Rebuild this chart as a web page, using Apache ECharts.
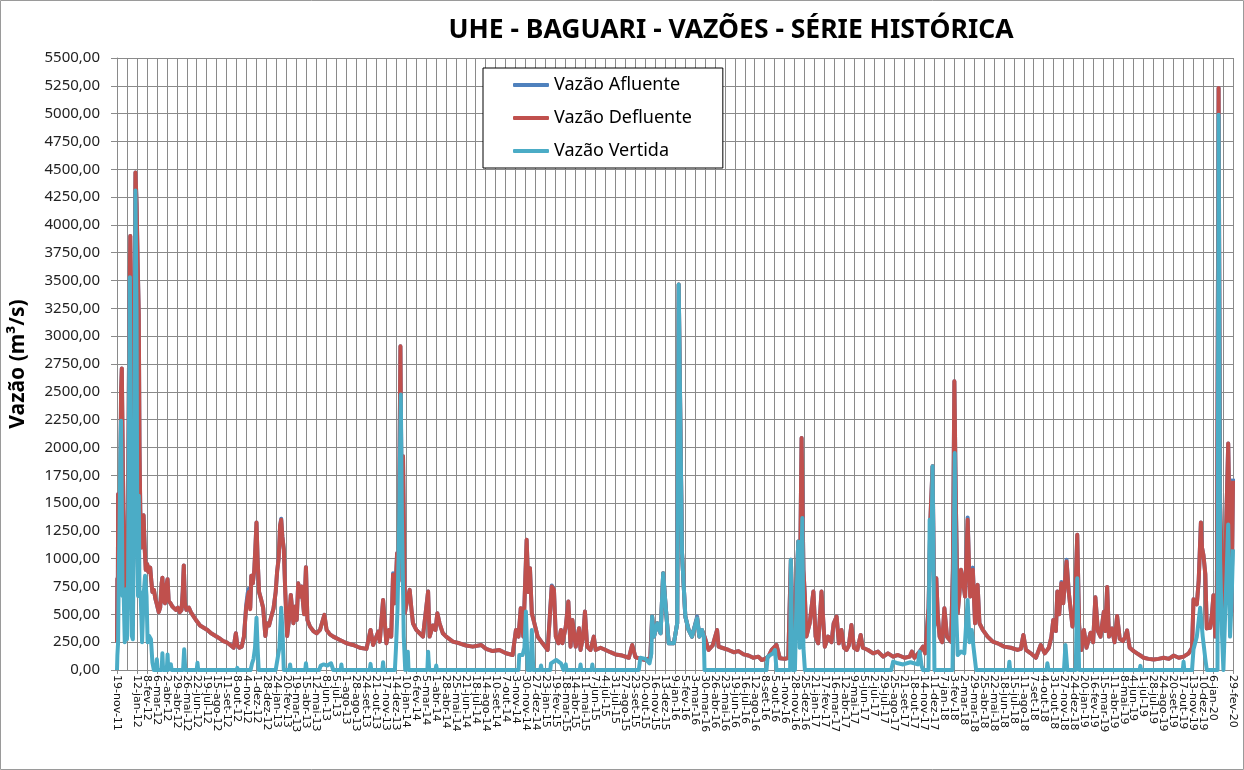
<!DOCTYPE html>
<html>
<head>
<meta charset="utf-8">
<title>UHE - BAGUARI - VAZÕES - SÉRIE HISTÓRICA</title>
<script src="https://cdn.jsdelivr.net/npm/echarts@6/dist/echarts.min.js"></script>
<style>
  html, body { margin: 0; padding: 0; background: #fff; }
  #chart { width: 1244px; height: 770px; }
</style>
</head>
<body>
<div id="chart"></div>
<script>
// eixo x: dias contados a partir de 19-nov-11 (rótulo a cada 27 dias)
const startDate = Date.UTC(2011, 10, 19)
const lastDay = 3024
const labelStep = 27
const meses = ['jan', 'fev', 'mar', 'abr', 'mai', 'jun', 'jul', 'ago', 'set', 'out', 'nov', 'dez']
const seriesNames = ['Vazão Afluente', 'Vazão Defluente', 'Vazão Vertida']
const seriesColors = ['#4F81BD', '#C0504D', '#4BACC6']

// [dia, m³/s]
const defluente = [
  [0,250],[1,820],[2,300],[3,1580],[5,900],[8,1200],[11,2500],[13,2710],[16,1800],[19,1100],[22,1000],[24,660],[27,800],[30,1500],[33,3000],[36,3900],[38,3000],[40,1200],[42,700],[44,1000],[47,3000],[50,4470],[53,4200],[56,3660],[59,3200],[61,2000],[63,1450],[66,1100],[70,1200],[72,1390],[75,1100],[78,900],[82,950],[85,880],[90,920],[93,800],[96,700],[100,720],[104,640],[108,590],[113,520],[117,560],[121,780],[123,830],[126,620],[130,600],[134,760],[137,816],[140,620],[145,600],[150,570],[155,580],[160,540],[165,560],[170,520],[175,540],[178,700],[181,940],[184,600],[188,540],[195,560],[200,520],[208,480],[216,440],[225,400],[235,380],[245,360],[255,330],[265,310],[275,290],[280,300],[288,260],[296,250],[305,230],[310,240],[316,200],[322,330],[326,220],[332,200],[338,210],[344,300],[350,560],[354,650],[357,700],[361,546],[364,846],[368,780],[372,900],[375,1100],[378,1326],[381,1000],[385,700],[390,640],[396,560],[402,306],[406,420],[412,400],[418,480],[424,550],[430,700],[434,890],[438,1000],[442,1300],[445,1350],[448,1200],[452,1086],[456,700],[461,306],[466,450],[471,675],[478,420],[483,570],[487,450],[491,780],[496,660],[500,750],[507,500],[512,924],[516,450],[523,390],[532,350],[541,330],[550,360],[557,440],[562,495],[568,360],[577,320],[586,300],[604,270],[622,240],[640,225],[658,200],[676,190],[687,360],[694,225],[708,345],[712,255],[721,630],[730,240],[737,360],[743,300],[748,855],[753,600],[759,1050],[763,800],[768,2910],[771,1500],[775,1920],[780,510],[786,620],[793,720],[798,540],[802,420],[811,360],[820,330],[829,300],[843,705],[847,300],[856,400],[863,360],[868,510],[874,420],[883,330],[892,300],[910,255],[928,240],[946,220],[964,210],[987,225],[1000,190],[1018,170],[1036,180],[1054,150],[1072,135],[1081,360],[1088,300],[1094,555],[1101,300],[1110,1170],[1115,700],[1119,915],[1124,510],[1131,420],[1140,300],[1153,240],[1167,180],[1178,750],[1184,720],[1189,300],[1196,240],[1203,360],
  [1207,240],[1216,390],[1223,615],[1229,210],[1234,450],[1243,210],[1252,375],[1256,180],[1263,300],[1268,525],[1274,210],[1283,180],[1292,300],[1297,180],[1310,200],[1324,180],[1337,160],[1351,140],[1369,130],[1387,110],[1396,225],[1405,115],[1418,100],[1432,90],[1445,110],[1450,480],[1455,300],[1464,420],[1473,330],[1480,870],[1486,600],[1495,240],[1509,240],[1518,420],[1522,3465],[1527,2100],[1531,1050],[1540,480],[1549,360],[1558,300],[1572,465],[1578,300],[1585,360],[1592,300],[1603,180],[1614,220],[1626,360],[1630,210],[1639,200],[1657,180],[1671,160],[1684,170],[1698,140],[1711,130],[1724,110],[1738,120],[1747,90],[1756,100],[1765,120],[1774,180],[1787,225],[1796,105],[1810,100],[1819,110],[1826,990],[1832,200],[1837,360],[1841,700],[1846,1155],[1851,900],[1855,2085],[1860,900],[1864,660],[1868,300],[1877,420],[1887,705],[1893,300],[1900,240],[1909,705],[1918,210],[1927,300],[1936,250],[1942,420],[1950,480],[1956,240],[1963,360],[1970,200],[1977,180],[1983,220],[1990,405],[1997,200],[2006,180],[2015,315],[2021,200],[2035,180],[2049,150],[2062,165],[2076,120],[2089,150],[2103,120],[2116,135],[2134,110],[2148,120],[2154,165],[2161,110],[2175,165],[2184,210],[2190,150],[2199,555],[2204,1350],[2210,1830],[2215,400],[2220,825],[2224,500],[2229,300],[2236,250],[2242,555],[2249,300],[2260,255],[2265,900],[2269,2595],[2273,1500],[2278,510],[2283,700],[2287,900],[2292,810],[2298,660],[2305,1350],[2309,900],[2312,660],[2319,900],[2325,420],[2332,765],[2337,420],[2346,360],[2359,300],[2373,255],[2386,240],[2404,210],[2422,200],[2440,180],[2449,190],[2456,315],[2463,180],[2476,150],[2490,110],[2503,225],[2514,150],[2525,200],[2532,300],[2537,450],[2544,350],[2548,705],[2553,500],[2559,780],[2564,600],[2573,975],[2579,700],[2584,690],[2589,390],[2595,500],[2602,1215],[2607,400],[2613,180],[2620,360],[2627,200],[2638,335],[2645,250],[2651,654],[2658,350],[2665,300],[2674,523],[2678,350],[2683,747],[2688,300],[2696,373],[2703,250],[2710,486],[2717,280],[2726,260],[2732,300],[2737,355],[2744,200],[2755,170],[2764,150],[2773,130],[2782,110],[2795,100],[2809,95],[2822,100],[2836,110],[2850,100],[2863,130],[2877,110],[2890,120],[2904,150],[2913,200],[2917,635],[2926,590],[2931,800],[2937,1326],[2940,1100],[2944,1030],[2949,860],[2953,374],[2962,380],[2967,500],[2971,672],[2976,300],[2980,350],[2985,5230],[2989,1500],[2994,900],[2998,400],[3003,935],[3007,1500],[3011,2036],[3016,1100],[3020,523],[3024,1700]
]

// quase sempre coberta pela defluente
const afluente = [
  [0,250],[1,820],[2,300],[3,1580],[5,900],[8,1200],[11,2500],[13,2710],[16,1800],[19,1100],[22,1000],[24,660],[27,800],[30,1500],[33,3000],[36,3900],[38,3000],[40,1200],[42,700],[44,1000],[47,3000],[50,4470],[53,4200],[56,3660],[59,3200],[61,2000],[63,1450],[66,1100],[70,1200],[72,1390],[75,1100],[78,900],[82,950],[85,880],[90,920],[93,800],[96,700],[100,720],[104,640],[108,590],[113,520],[117,560],[121,780],[123,830],[126,620],[130,600],[134,760],[137,816],[140,620],[145,600],[150,570],[155,580],[160,540],[165,560],[170,520],[175,540],[178,700],[181,940],[184,600],[188,540],[195,560],[200,520],[208,480],[216,440],[225,400],[235,380],[245,360],[255,330],[265,310],[275,290],[280,300],[288,260],[296,250],[305,230],[310,240],[316,200],[322,330],[326,220],[332,200],[338,210],[344,300],[350,580],[354,690],[357,730],[361,560],[364,846],[368,780],[372,900],[375,1100],[378,1326],[381,1000],[385,700],[390,640],[396,560],[402,306],[406,420],[412,400],[418,480],[424,550],[430,700],[434,890],[438,1000],[442,1300],[445,1360],[448,1200],[452,1086],[456,700],[461,306],[466,450],[471,675],[478,420],[483,570],[487,450],[491,780],[496,660],[500,750],[507,500],[512,924],[516,450],[523,390],[532,350],[541,330],[550,360],[557,440],[562,495],[568,360],[577,320],[586,300],[604,270],[622,240],[640,225],[658,200],[676,190],[687,360],[694,225],[708,345],[712,255],[721,630],[730,240],[737,360],[743,300],[748,870],[753,600],[759,1050],[763,800],[768,2910],[771,1500],[775,1920],[780,510],[786,620],[793,720],[798,540],[802,420],[811,360],[820,330],[829,300],[843,705],[847,300],[856,400],[863,360],[868,510],[874,420],[883,330],[892,300],[910,255],[928,240],[946,220],[964,210],[987,225],[1000,190],[1018,170],[1036,180],[1054,150],[1072,135],[1081,360],[1088,300],[1094,555],[1101,300],[1110,1170],[1115,700],[1119,915],[1124,510],[1131,420],[1140,300],[1153,240],[1167,180],[1178,760],[1184,720],[1189,300],[1196,240],[1203,360],
  [1207,240],[1216,390],[1223,615],[1229,210],[1234,450],[1243,210],[1252,375],[1256,180],[1263,300],[1268,525],[1274,210],[1283,180],[1292,300],[1297,180],[1310,200],[1324,180],[1337,160],[1351,140],[1369,130],[1387,110],[1396,225],[1405,115],[1418,100],[1432,90],[1445,110],[1450,480],[1455,300],[1464,420],[1473,330],[1480,870],[1486,600],[1495,240],[1509,240],[1518,420],[1522,3465],[1527,2100],[1531,1050],[1540,480],[1549,360],[1558,300],[1572,480],[1578,300],[1585,360],[1592,300],[1603,180],[1614,220],[1626,360],[1630,210],[1639,200],[1657,180],[1671,160],[1684,170],[1698,140],[1711,130],[1724,110],[1738,120],[1747,90],[1756,100],[1765,120],[1774,180],[1787,225],[1796,105],[1810,100],[1819,110],[1826,990],[1832,200],[1837,360],[1841,700],[1846,1155],[1851,900],[1855,2085],[1860,900],[1864,660],[1868,300],[1877,420],[1887,705],[1893,300],[1900,240],[1909,705],[1918,210],[1927,300],[1936,250],[1942,420],[1950,480],[1956,240],[1963,360],[1970,200],[1977,180],[1983,220],[1990,405],[1997,200],[2006,180],[2015,315],[2021,200],[2035,180],[2049,150],[2062,165],[2076,120],[2089,150],[2103,120],[2116,135],[2134,110],[2148,120],[2154,165],[2161,110],[2175,165],[2184,210],[2190,150],[2199,555],[2204,1350],[2210,1830],[2215,400],[2220,825],[2224,500],[2229,300],[2236,250],[2242,555],[2249,300],[2260,255],[2265,900],[2269,2595],[2273,1500],[2278,510],[2283,700],[2287,900],[2292,810],[2298,660],[2305,1370],[2309,900],[2312,660],[2319,920],[2325,420],[2332,765],[2337,420],[2346,360],[2359,300],[2373,255],[2386,240],[2404,210],[2422,200],[2440,180],[2449,190],[2456,315],[2463,180],[2476,150],[2490,110],[2503,225],[2514,150],[2525,200],[2532,300],[2537,450],[2544,350],[2548,705],[2553,500],[2559,790],[2564,600],[2573,990],[2579,700],[2584,690],[2589,390],[2595,500],[2602,1215],[2607,400],[2613,180],[2620,360],[2627,200],[2638,335],[2645,250],[2651,654],[2658,350],[2665,300],[2674,523],[2678,350],[2683,747],[2688,300],[2696,373],[2703,250],[2710,486],[2717,280],[2726,260],[2732,300],[2737,355],[2744,200],[2755,170],[2764,150],[2773,130],[2782,110],[2795,100],[2809,95],[2822,100],[2836,110],[2850,100],[2863,130],[2877,110],[2890,120],[2904,150],[2913,200],[2917,635],[2926,590],[2931,800],[2937,1326],[2940,1100],[2944,1030],[2949,860],[2953,374],[2962,380],[2967,500],[2971,672],[2976,300],[2980,350],[2985,5230],[2989,1500],[2994,900],[2998,400],[3003,935],[3007,1500],[3011,2036],[3016,1100],[3020,523],[3024,1720]
]

const vertida = [
  [0,0],[1,130],[3,250],[5,900],[7,1300],[9,1900],[11,2240],[13,1500],[15,666],[18,700],[21,250],[24,726],[27,276],[30,800],[33,2500],[35,3530],[37,1566],[40,306],[43,276],[46,1500],[48,2766],[50,4310],[53,3216],[55,1200],[57,666],[59,1566],[61,666],[64,700],[68,250],[72,666],[76,846],[80,666],[83,250],[87,306],[92,276],[96,66],[100,0],[106,0],[108,96],[110,0],[121,0],[123,150],[125,0],[135,0],[137,140],[139,0],[144,0],[146,50],[148,0],[179,0],[182,186],[185,0],[216,0],[218,66],[220,0],[324,0],[326,20],[328,0],[362,0],[366,60],[370,100],[374,200],[378,470],[381,200],[384,0],[430,0],[434,80],[440,200],[445,560],[449,300],[452,0],[467,0],[469,50],[471,0],[510,0],[512,60],[514,0],[548,0],[552,40],[560,50],[570,40],[580,60],[586,0],[606,0],[608,50],[610,0],[685,0],[687,55],[689,0],[719,0],[721,70],[723,0],[753,0],[756,200],[760,540],[764,1200],[769,2475],[772,1380],[777,300],[781,0],[786,0],[788,165],[790,0],[841,0],[843,165],[846,0],[863,0],[865,40],[867,0],[1088,0],[1090,135],[1099,135],[1104,200],[1108,525],[1113,0],[1121,0],[1124,360],[1128,0],[1147,0],[1149,40],[1151,0],[1174,0],[1176,60],[1190,90],[1203,60],[1210,0],
  [1214,0],[1216,50],[1218,0],[1254,0],[1256,50],[1258,0],[1286,0],[1288,50],[1290,0],[1414,0],[1418,110],[1432,100],[1443,60],[1448,150],[1450,480],[1455,300],[1464,420],[1473,330],[1480,870],[1486,600],[1495,240],[1509,240],[1518,420],[1522,3465],[1527,2100],[1531,1050],[1540,480],[1549,360],[1558,300],[1572,465],[1578,300],[1585,360],[1590,300],[1592,0],[1760,0],[1763,120],[1778,150],[1783,180],[1787,0],[1824,0],[1826,990],[1830,0],[1837,0],[1841,600],[1846,1155],[1850,200],[1853,600],[1857,1365],[1860,200],[1864,0],[2098,0],[2103,75],[2116,60],[2130,50],[2150,70],[2170,50],[2175,165],[2180,40],[2184,0],[2199,0],[2202,1350],[2206,900],[2210,1830],[2215,0],[2264,0],[2267,900],[2270,1950],[2273,600],[2278,135],[2287,165],[2296,150],[2305,630],[2310,250],[2316,360],[2321,200],[2328,0],[2416,0],[2418,75],[2420,0],[2519,0],[2521,60],[2524,0],[2566,0],[2570,225],[2575,0],[2598,0],[2602,825],[2607,0],[2771,0],[2773,37],[2775,0],[2888,0],[2890,75],[2892,0],[2913,0],[2917,187],[2926,300],[2935,560],[2942,300],[2949,100],[2953,0],[2982,0],[2985,4990],[2989,1000],[2994,336],[2998,0],[3003,523],[3007,900],[3011,1308],[3016,300],[3020,600],[3024,1084]
]

function dayLabel(d) {
  const dt = new Date(startDate + d * 86400000)
  return dt.getUTCDate() + '-' + meses[dt.getUTCMonth()] + '-' + String(dt.getUTCFullYear()).slice(2)
}

const gridColor = '#8a8a8a'
const chart = echarts.init(document.getElementById('chart'))

chart.setOption({
  animation: false,
  backgroundColor: '#fff',
  textStyle: { fontFamily: 'Noto Sans' },
  graphic: [
    {
      type: 'rect',
      shape: { x: 0.5, y: 0.5, width: 1243, height: 769 },
      style: { fill: 'none', stroke: '#9a9a9a', lineWidth: 1 },
    },
    {
      type: 'text',
      x: 731,
      y: 30,
      style: {
        text: 'UHE - BAGUARI - VAZÕES - SÉRIE HISTÓRICA',
        fontFamily: 'Noto Sans',
        fontWeight: 'bold',
        fontSize: 26.5,
        fill: '#000',
        align: 'center',
        verticalAlign: 'middle',
      },
    },
  ],
  grid: { left: 113, right: 11, top: 58, bottom: 100 },
  legend: {
    data: seriesNames,
    orient: 'vertical',
    left: 483,
    top: 68,
    padding: [7, 31, 7, 30],
    itemGap: 13,
    itemWidth: 36,
    itemHeight: 4,
    icon: 'roundRect',
    borderColor: '#000',
    borderWidth: 1,
    backgroundColor: '#fff',
    textStyle: { fontSize: 18, color: '#000', lineHeight: 20, fontFamily: 'Noto Sans' },
  },
  xAxis: {
    type: 'value',
    min: 0,
    max: lastDay,
    interval: labelStep,
    axisLine: { show: true, lineStyle: { color: gridColor } },
    axisTick: { show: true, length: 4, lineStyle: { color: gridColor } },
    splitLine: { show: true, lineStyle: { color: gridColor, width: 1 } },
    axisLabel: {
      rotate: -90,
      margin: 5,
      fontFamily: 'DejaVu Sans',
      fontSize: 11,
      color: '#111',
      showMinLabel: true,
      showMaxLabel: true,
      hideOverlap: false,
      formatter: (v) => dayLabel(v),
    },
  },
  yAxis: {
    type: 'value',
    min: 0,
    max: 5500,
    interval: 250,
    name: 'Vazão (m³/s)',
    nameLocation: 'middle',
    nameGap: 88,
    nameTextStyle: { fontFamily: 'Noto Sans', fontWeight: 'bold', fontSize: 21, color: '#000' },
    axisLine: { show: true, lineStyle: { color: gridColor } },
    axisTick: { show: true, length: 6, lineStyle: { color: gridColor } },
    splitLine: { show: true, lineStyle: { color: gridColor, width: 1 } },
    axisLabel: {
      margin: 17,
      fontFamily: 'Noto Sans',
      fontSize: 15,
      color: '#222',
      formatter: (v) => v.toFixed(2).replace('.', ','),
    },
  },
  series: [
    [afluente, 0],
    [defluente, 1],
    [vertida, 2],
  ].map(([data, i]) => ({
    name: seriesNames[i],
    type: 'line',
    data: data,
    symbol: 'none',
    showSymbol: false,
    itemStyle: { color: seriesColors[i] },
    lineStyle: { color: seriesColors[i], width: 4, join: 'round' },
  })),
})
</script>
</body>
</html>
